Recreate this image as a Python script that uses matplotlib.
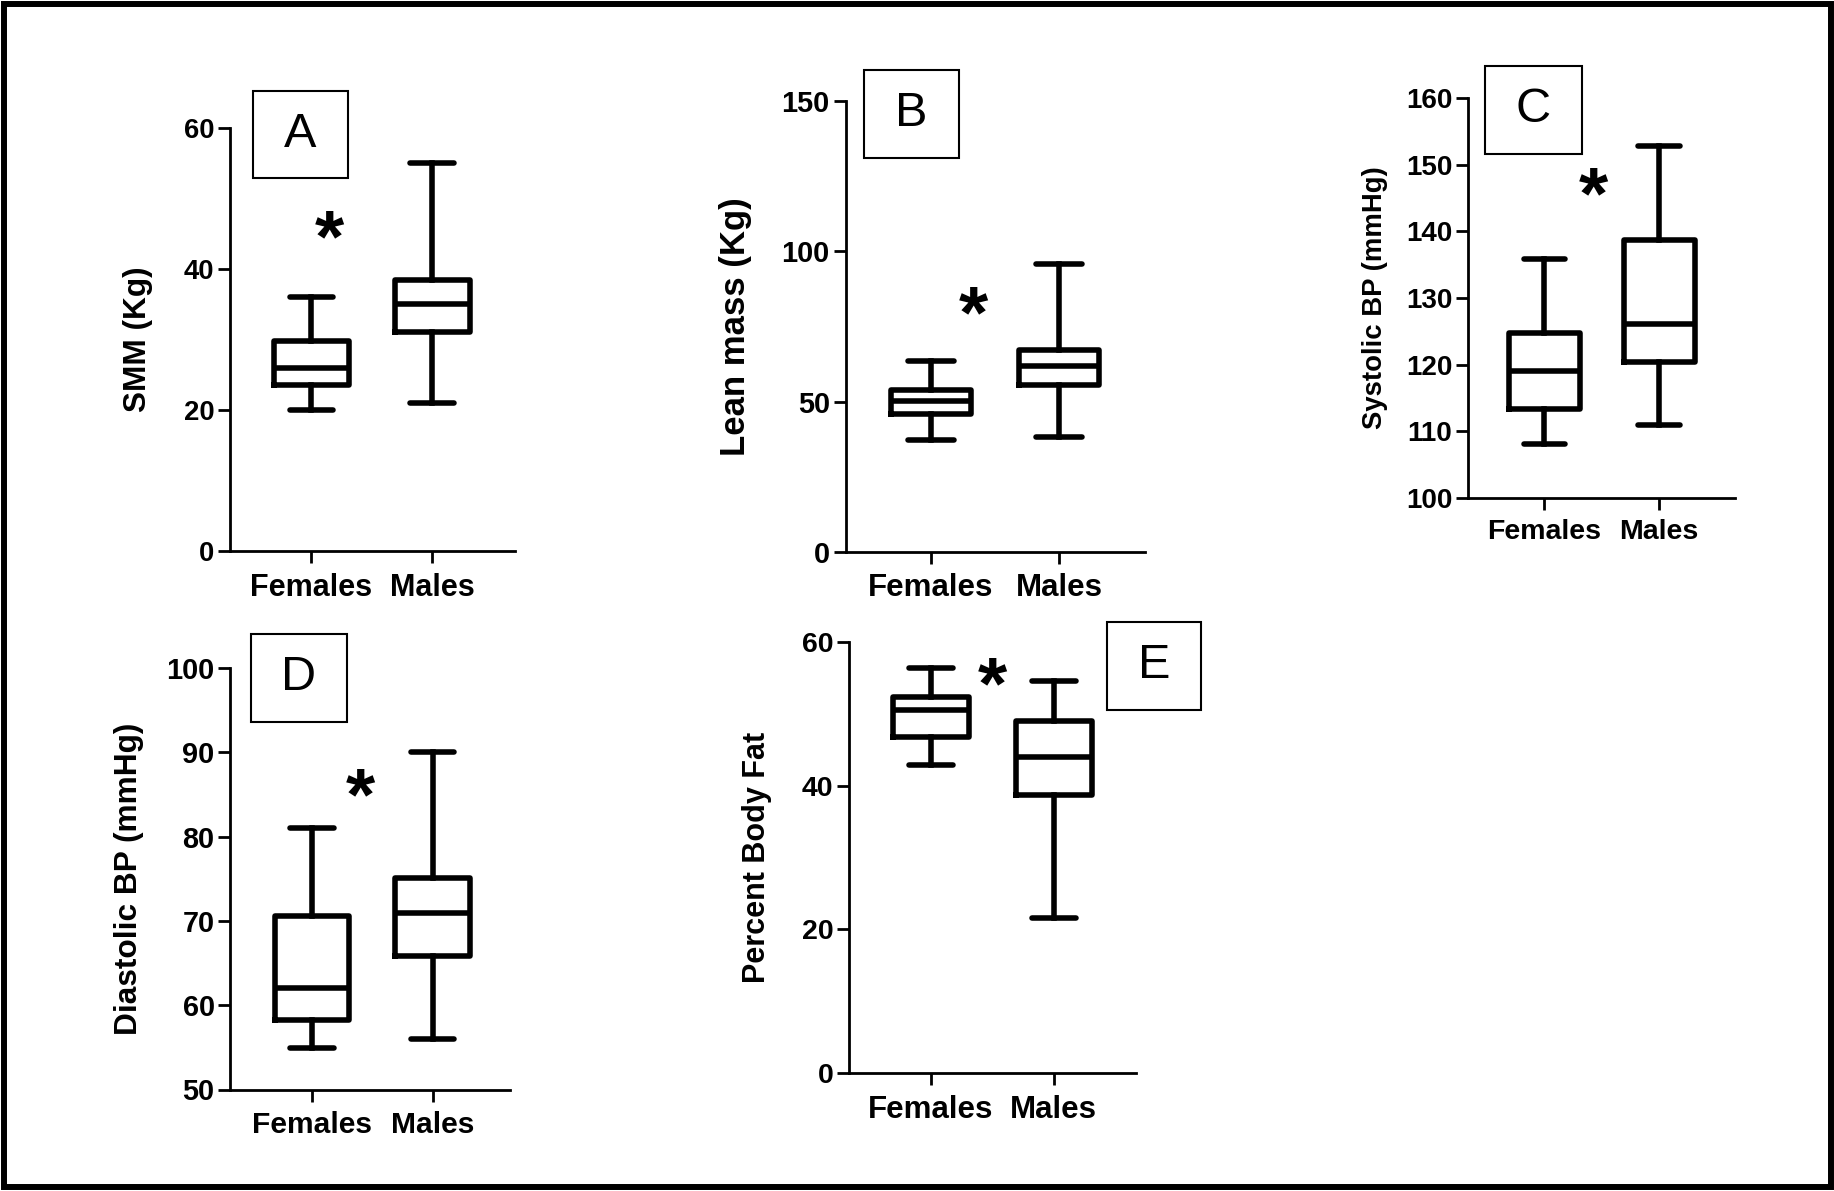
import matplotlib
matplotlib.use("Agg")
import matplotlib.pyplot as plt
from matplotlib.patches import Rectangle

plt.rcParams['font.family'] = ['Liberation Sans', 'DejaVu Sans']
plt.rcParams['font.weight'] = 'bold'

# figure size in pixels
W, H = 1834, 1191

categories = ['Females', 'Males']

# five-number summaries: [low whisker, Q1, median, Q3, high whisker]
smm_f = [20.0, 23.5, 26.0, 29.8, 36.0]
smm_m = [21.0, 31.0, 35.1, 38.5, 55.0]
lean_f = [37.3, 45.7, 50.2, 53.7, 63.6]
lean_m = [38.3, 55.5, 61.7, 67.1, 95.7]
sbp_f = [108.0, 113.4, 119.0, 124.7, 135.9]
sbp_m = [110.9, 120.4, 126.1, 138.7, 152.9]
dbp_f = [54.9, 58.2, 62.0, 70.6, 81.0]
dbp_m = [56.0, 65.8, 71.0, 75.1, 90.1]
fat_f = [42.9, 46.8, 50.5, 52.3, 56.3]
fat_m = [21.6, 38.7, 44.0, 49.0, 54.5]

ylabels = ['SMM (Kg)', 'Lean mass (Kg)', 'Systolic BP (mmHg)',
           'Diastolic BP (mmHg)', 'Percent Body Fat']
yticks_A = [0, 20, 40, 60]
yticks_B = [0, 50, 100, 150]
yticks_C = [100, 110, 120, 130, 140, 150, 160]
yticks_D = [50, 60, 70, 80, 90, 100]
yticks_E = [0, 20, 40, 60]

# asterisk positions (x in category units, y in data units)
star_A = (1.15, 46.0)
star_B = (1.33, 83.0)
star_C = (1.43, 147.2)
star_D = (1.40, 86.1)
star_E = (1.50, 55.6)

panel_letters = ['A', 'B', 'C', 'D', 'E']


def px_rect(left, top, right, bottom):
    return [left / W, 1 - bottom / H, (right - left) / W, (bottom - top) / H]


def stats(f, m):
    out = []
    for name, v in zip(categories, [f, m]):
        out.append({'label': name, 'whislo': v[0], 'q1': v[1], 'med': v[2],
                    'q3': v[3], 'whishi': v[4], 'fliers': []})
    return out


fig = plt.figure(figsize=(W / 100, H / 100), dpi=100)

panels = [
    # axes px rect, ylim, xlim, yticks, data, star, label x, label fs, ytick fs, xtick fs, letter box
    ((230.5, 128, 515, 551), (0, 60), (0.331, 2.686), yticks_A, (smm_f, smm_m), star_A, -0.271, 22.8, 19.8, 22, (252.7, 90.7, 347.7, 178.3)),
    ((845.7, 101.1, 1145, 551.8), (0, 150), (0.334, 2.67), yticks_B, (lean_f, lean_m), star_B, -0.314, 25.0, 20.8, 22.5, (864, 70, 959, 157.5)),
    ((1468.3, 98.3, 1735, 497.7), (100, 160), (0.339, 2.66), yticks_C, (sbp_f, sbp_m), star_C, -0.300, 19.8, 20, 20.5, (1485, 66, 1582, 154)),
    ((230.5, 668.2, 510, 1089.5), (50, 100), (0.325, 2.64), yticks_D, (dbp_f, dbp_m), star_D, -0.310, 22.8, 20.8, 21.6, (250.7, 633.8, 347.3, 721.6)),
    ((849.3, 641.7, 1136, 1073.3), (0, 60), (0.336, 2.67), yticks_E, (fat_f, fat_m), star_E, -0.271, 22, 20.5, 22.5, (1106.7, 621.7, 1201, 710)),
]

star_fs = 54

for i, (rect, ylim, xlim, yt, data, star, lx, lfs, ytfs, xtfs, lbox) in enumerate(panels):
    ax = fig.add_axes(px_rect(*rect))
    lw = 4
    ax.bxp(stats(*data), positions=[1, 2], widths=0.62, capwidths=0.36,
           showfliers=False, patch_artist=False,
           boxprops=dict(color='black', linewidth=lw),
           whiskerprops=dict(color='black', linewidth=lw),
           capprops=dict(color='black', linewidth=lw, solid_capstyle='round'),
           medianprops=dict(color='black', linewidth=lw))
    ax.set_ylim(*ylim)
    ax.set_xlim(*xlim)
    ax.set_yticks(yt)
    ax.set_xticks([1, 2])
    ax.set_xticklabels(categories, fontsize=xtfs, fontweight='bold')
    ax.tick_params(axis='y', labelsize=ytfs, direction='out', length=8.5, width=2, pad=3)
    ax.tick_params(axis='x', direction='out', length=8.5, width=2, pad=7)
    for s in ['top', 'right']:
        ax.spines[s].set_visible(False)
    for s in ['left', 'bottom']:
        ax.spines[s].set_linewidth(2)
    ax.set_ylabel(ylabels[i], fontsize=lfs, fontweight='bold')
    ax.yaxis.set_label_coords(lx, 0.5)
    # the asterisk glyph sits high in its text box, so shift it down a little
    ax.annotate('*', xy=star, xytext=(0, -0.2 * star_fs), textcoords='offset points',
                fontsize=star_fs, fontweight='bold', ha='center', va='center')

    # panel letter in a box
    bl, bt, br, bb = lbox
    fig.add_artist(Rectangle((bl / W, 1 - bb / H), (br - bl) / W, (bb - bt) / H,
                             transform=fig.transFigure, fill=False,
                             edgecolor='black', linewidth=1.5))
    fig.text((bl + br) / 2 / W, 1 - (bt + bb) / 2 / H, panel_letters[i],
             fontsize=35, fontweight='normal', ha='center', va='center')

# outer frame
fig.add_artist(Rectangle((3.5 / W, 1 - 1186.5 / H), 1827 / W, 1183 / H,
                         transform=fig.transFigure, fill=False,
                         edgecolor='black', linewidth=4.3))

fig.savefig('out.png', dpi=100)
